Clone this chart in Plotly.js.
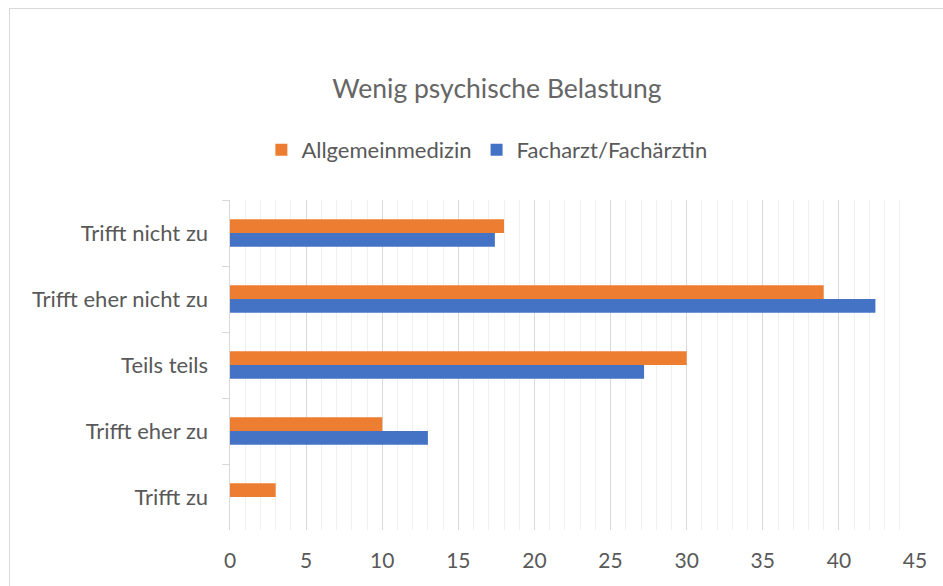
<!DOCTYPE html>
<html>
<head>
<meta charset="utf-8">
<script src="https://cdn.plot.ly/plotly-3.0.1.min.js"></script>
<style>
html,body{margin:0;padding:0;overflow:hidden;background:#fff;}
#chart{position:absolute;left:0;top:0;width:943px;height:586px;}
#frame{position:absolute;left:9px;top:8px;width:1000px;height:1000px;border:1.5px solid #d9d9d9;pointer-events:none;}
</style>
</head>
<body>
<div id="chart"></div>
<div id="frame"></div>
<script>
var categories = ["Trifft nicht zu", "Trifft eher nicht zu", "Teils teils", "Trifft eher zu", "Trifft zu"];
var seriesNames = ["Allgemeinmedizin", "Facharzt/Fachärztin"];
var allgemeinmedizin = [18, 39, 30, 10, 3];
var facharzt = [17.4, 42.4, 27.2, 13, 0];
var xTicks = [0, 5, 10, 15, 20, 25, 30, 35, 40, 45];

var FONT = "Lato, 'Open Sans', sans-serif";
var data = [
  {type:'bar', orientation:'h', name:seriesNames[0], y:categories, x:allgemeinmedizin, marker:{color:'#ED7D31'}},
  {type:'bar', orientation:'h', name:seriesNames[1], y:categories, x:facharzt, marker:{color:'#4472C4'}}
];
var layout = {
  width:943, height:586,
  margin:{l:230, r:28, t:200, b:56},
  paper_bgcolor:'rgba(0,0,0,0)', plot_bgcolor:'#fff',
  font:{family:FONT, color:'#595959', size:22},
  title:{text:'Wenig psychische Belastung', font:{size:26.5, color:'#666666', family:FONT}, x:0.527, xanchor:'center', y:0.848, yanchor:'middle'},
  barmode:'group', bargap:0.58, bargroupgap:0,
  showlegend:true,
  legend:{orientation:'h', x:0.375, xanchor:'center', y:1.152, yanchor:'middle', font:{size:22, color:'#595959'}, itemwidth:30},
  xaxis:{range:[0,45], tickvals:xTicks, ticktext:xTicks.map(String), showgrid:true, gridcolor:'#d9d9d9', gridwidth:1,
         minor:{dtick:1, showgrid:true, gridcolor:'#f0f0f0', gridwidth:1}, zeroline:false, showline:false, ticks:'', ticklabelstandoff:16,
         tickfont:{size:21, color:'#595959'}, fixedrange:true},
  yaxis:{autorange:'reversed', type:'category', showline:true, linecolor:'#d9d9d9', linewidth:1.5, ticks:'outside', tickson:'boundaries',
         ticklen:7, tickcolor:'#d9d9d9', showgrid:false, tickfont:{size:22, color:'#595959'}, ticklabelstandoff:16, fixedrange:true}
};
Plotly.newPlot('chart', data, layout, {displayModeBar:false, staticPlot:true});
</script>
</body>
</html>
